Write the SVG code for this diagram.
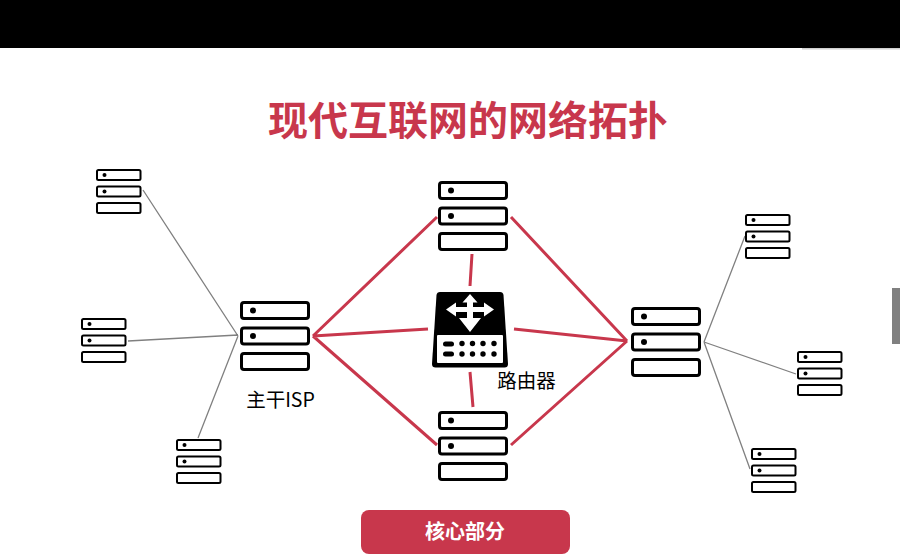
<svg xmlns="http://www.w3.org/2000/svg" width="900" height="560" viewBox="0 0 900 560">
<style>
text{font-family:"Noto Sans CJK SC","Noto Sans",sans-serif}
.b{fill:#fff;stroke:#000;stroke-linejoin:round}
.r{stroke:#c8374c;stroke-width:3;fill:none;stroke-linecap:butt}
.g{stroke:#808080;stroke-width:1.3;fill:none}
.lab{font-size:19.5px;fill:#000}
</style>
<defs>
<g id="srvL">
<rect class="b" x="1.5" y="1.5" width="67" height="16" rx="2.5" stroke-width="3"/>
<circle cx="13" cy="9.5" r="3"/>
<rect class="b" x="1.5" y="27" width="67" height="16" rx="2.5" stroke-width="3"/>
<circle cx="13" cy="35" r="3"/>
<rect class="b" x="1.5" y="52.5" width="67" height="16" rx="2.5" stroke-width="3"/>
</g>
<g id="srvS">
<rect class="b" x="1" y="1" width="43.500" height="10" rx="1.500" stroke-width="2"/>
<circle cx="8.500" cy="6" r="2"/>
<rect class="b" x="1" y="17.500" width="43.500" height="10" rx="1.500" stroke-width="2"/>
<circle cx="8.500" cy="22.500" r="2"/>
<rect class="b" x="1" y="34" width="43.500" height="10" rx="1.500" stroke-width="2"/>
</g>
</defs>
<rect width="900" height="560" fill="#fff"/>
<rect width="900" height="48" fill="#000"/>
<rect x="802" y="48" width="98" height="1.500" fill="#d0d0d0"/>
<rect x="892" y="288" width="8" height="56" fill="#808080"/>
<text x="468" y="135" text-anchor="middle" font-size="40" font-weight="700" fill="#c8374c">现代互联网的网络拓扑</text>
<g id="connectors">
<path class="g" d="M143 190L238 336M128 341L238 335M198 438L238 336"/>
<path class="g" d="M704 342L745 236M704 342L796 374M704 342L750 469"/>
<path class="r" d="M313 336L437 217M313 336L428 329M313 336L437 445"/>
<path class="r" d="M511 217L627 341M514 329L627 341M511 445L627 341"/>
<path class="r" d="M472 254L470 286M470 372L473 407"/>
</g>
<g id="isp-left"><use href="#srvL" x="240" y="301"/></g>
<g id="isp-right"><use href="#srvL" x="631" y="307"/></g>
<g id="core-top"><use href="#srvL" x="438" y="181"/></g>
<g id="core-bottom"><use href="#srvL" x="438" y="411"/></g>
<g id="s1"><use href="#srvS" x="96" y="169"/></g>
<g id="s2"><use href="#srvS" x="81" y="318"/></g>
<g id="s3"><use href="#srvS" x="176" y="439"/></g>
<g id="s4"><use href="#srvS" x="745" y="214"/></g>
<g id="s5"><use href="#srvS" x="797" y="351"/></g>
<g id="s6"><use href="#srvS" x="751" y="448"/></g>
<g id="router">
<path d="M440 292H500Q503 292 503.500 295L508 364Q508 367.500 504.500 367.500H435.500Q432 367.500 432 364L436.500 295Q437 292 440 292Z"/>
<rect x="437" y="335" width="66" height="28" rx="1" fill="#fff"/>
<path fill="#fff" d="M470 294L477.500 302.500H473V307H484V302.500L494 309.500L484 316.500V312H473V318H481L470 332L459 318H467V312H456V316.500L446 309.500L456 302.500V307H467V302.500H462.500Z"/>
<g>
<rect x="443" y="341.500" width="11" height="5" rx="2.500"/>
<rect x="443" y="351.500" width="11" height="5" rx="2.500"/>
<circle cx="462" cy="343.500" r="2.700"/><circle cx="472.500" cy="343.500" r="2.700"/><circle cx="483" cy="343.500" r="2.700"/><circle cx="494" cy="343.500" r="2.700"/>
<circle cx="462" cy="354" r="2.700"/><circle cx="472.500" cy="354" r="2.700"/><circle cx="483" cy="354" r="2.700"/><circle cx="494" cy="354" r="2.700"/>
</g>
</g>
<text class="lab" x="526.500" y="388" text-anchor="middle">路由器</text>
<text class="lab" x="280.500" y="407" text-anchor="middle">主干ISP</text>
<g id="core-label">
<rect x="361" y="510" width="209" height="44" rx="8" fill="#c8374c"/>
<text x="465" y="539" text-anchor="middle" font-size="20" font-weight="700" fill="#fff">核心部分</text>
</g>
</svg>
